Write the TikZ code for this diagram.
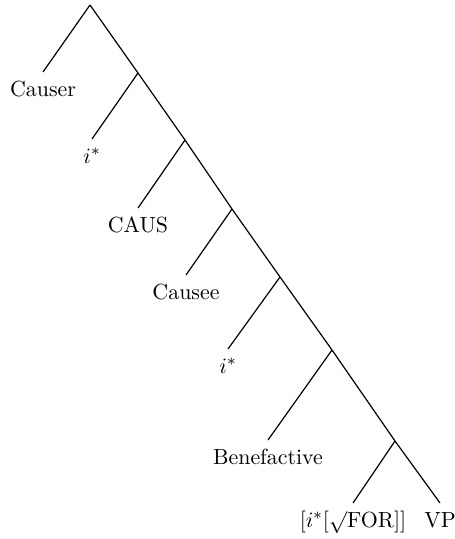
\documentclass[tikz,border=0pt,11pt]{standalone}
\usepackage{tikz}

\begin{document}
\begin{tikzpicture}[x=0.5pt,y=-0.5pt,line width=0.6pt,
  leaf/.style={anchor=north,inner xsep=0pt,inner ysep=4pt,text height=8pt,text depth=3pt}]
\useasboundingbox (0,0) rectangle (454,539);
\coordinate (top) at (90,5);
\coordinate (n1) at (138,73);
\coordinate (n2) at (185,140);
\coordinate (n3) at (232,209);
\coordinate (n4) at (280,277);
\coordinate (n5) at (332,350);
\coordinate (n6) at (395,441);
\node[leaf] (causer) at (43,72) {Causer};
\node[leaf] (istar1) at (92,139) {$i^*$};
\node[leaf] (caus) at (138,208) {CAUS};
\node[leaf] (causee) at (186,275) {Causee};
\node[leaf] (istar2) at (228,349) {$i^*$};
\node[leaf] (benef) at (268,440) {Benefactive};
\node[leaf] (root) at (353,503) {[$i^*$[$\surd$FOR]]};
\node[leaf] (vp) at (440,503) {VP};
\draw (top) -- (causer.north);
\draw (top) -- (n1) -- (n2) -- (n3) -- (n4) -- (n5) -- (n6) -- (vp.north);
\draw (n1) -- (istar1.north);
\draw (n2) -- (caus.north);
\draw (n3) -- (causee.north);
\draw (n4) -- (istar2.north);
\draw (n5) -- (benef.north);
\draw (n6) -- (root.north);
\end{tikzpicture}
\end{document}
